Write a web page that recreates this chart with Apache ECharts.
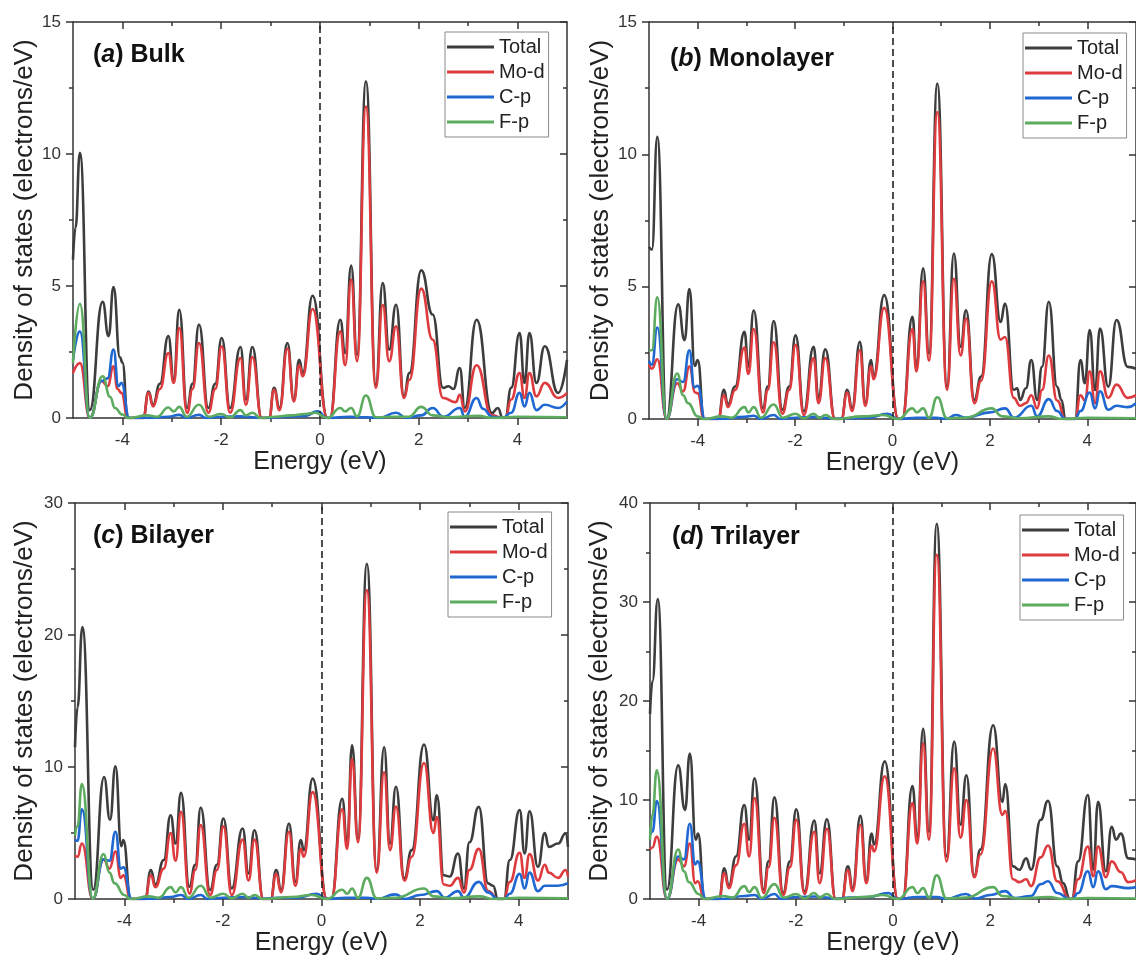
<!DOCTYPE html>
<html>
<head>
<meta charset="utf-8">
<script src="https://cdn.jsdelivr.net/npm/echarts@6/dist/echarts.min.js"></script>
<style>
  html, body { margin: 0; padding: 0; background: #fff; }
  #dos { width: 1136px; height: 958px; }
</style>
</head>
<body>
<div id="dos"></div>
<script>
// tick labels
var xMajor = [-4, -2, 0, 2, 4];
var xMinor = [-3, -1, 1, 3];
var seriesNames = ['Total', 'Mo-d', 'C-p', 'F-p'];

// (a) Bulk
var bulkTotal = [[-5,6.0],[-4.95,7.2],[-4.86,10.05],[-4.66,0.3],[-4.4,4.4],[-4.28,3.1],[-4.18,4.96],[-4.05,2.3],[-4.0,2.1],[-3.89,0],[-3.58,0],[-3.47,1.0],[-3.38,0.5],[-3.24,1.3],[-3.07,3.1],[-2.96,1.45],[-2.85,4.1],[-2.69,0.38],[-2.58,1.3],[-2.45,3.54],[-2.26,0.38],[-2.12,1.3],[-1.99,3.03],[-1.82,0.38],[-1.61,2.69],[-1.5,0.7],[-1.37,2.69],[-1.18,0],[-1.03,0],[-0.93,1.14],[-0.82,0.38],[-0.66,2.84],[-0.53,0.7],[-0.42,2.2],[-0.35,1.7],[-0.15,4.63],[0.15,0],[0.2,0],[0.41,3.72],[0.51,2.46],[0.63,5.77],[0.75,2.4],[0.93,12.75],[1.13,1.26],[1.27,5.11],[1.4,2.59],[1.54,4.29],[1.7,0.82],[1.81,1.7],[2.05,5.59],[2.28,3.92],[2.49,1.14],[2.6,1.2],[2.7,1.1],[2.83,1.89],[2.93,0.38],[3.17,3.72],[3.48,0.19],[3.6,0.38],[3.7,0],[3.75,0],[3.87,1.14],[4.04,3.22],[4.14,1.33],[4.24,3.22],[4.38,1.33],[4.55,2.72],[4.82,0.95],[5.0,2.2]];
var bulkMoD = [[-5,1.7],[-4.86,2.08],[-4.66,0],[-4.42,1.4],[-4.3,1.2],[-4.18,1.96],[-4.1,1.1],[-4.02,0.95],[-3.89,0],[-3.58,0],[-3.47,0.95],[-3.38,0.44],[-3.24,1.1],[-3.07,2.46],[-2.96,1.33],[-2.85,3.41],[-2.69,0.19],[-2.58,1.1],[-2.45,2.84],[-2.26,0.2],[-2.12,1.1],[-1.99,2.72],[-1.82,0.2],[-1.61,2.27],[-1.5,0.5],[-1.37,2.31],[-1.18,0],[-1.03,0],[-0.93,1.07],[-0.82,0.3],[-0.66,2.63],[-0.53,0.63],[-0.42,2.0],[-0.35,1.58],[-0.15,4.13],[0.15,0],[0.2,0],[0.41,3.28],[0.51,2.0],[0.63,5.24],[0.75,2.15],[0.93,11.8],[1.13,1.14],[1.27,4.29],[1.4,2.15],[1.54,3.47],[1.7,0.76],[1.81,1.45],[2.05,4.9],[2.28,2.97],[2.49,0.76],[2.75,0.6],[2.83,0.88],[2.93,0.25],[3.17,2.0],[3.48,0.1],[3.7,0],[3.75,0],[3.87,0.7],[4.04,1.7],[4.14,0.76],[4.24,1.7],[4.38,0.82],[4.55,1.33],[4.82,0.76],[5.0,0.95]];
var bulkCp = [[-5,2.2],[-4.86,3.28],[-4.66,0],[-4.42,1.4],[-4.3,1.5],[-4.18,2.59],[-4.08,1.2],[-4.02,1.33],[-3.86,0],[-3.5,0],[-3.07,0.05],[-2.85,0.12],[-2.7,0],[-2.45,0.12],[-2.3,0],[-2.0,0.05],[-1.6,0.06],[-1.4,0.04],[-1.2,0],[-0.9,0.02],[-0.66,0.05],[-0.3,0.08],[-0.05,0.25],[0.15,0],[0.6,0.05],[0.93,0.03],[1.2,0],[1.54,0.2],[1.75,0],[2.05,0.1],[2.28,0.38],[2.5,0.05],[2.83,0.38],[2.93,0.05],[3.17,0.76],[3.3,0.35],[3.48,0.05],[3.7,0],[3.87,0.2],[4.04,0.95],[4.14,0.44],[4.24,0.95],[4.38,0.3],[4.55,0.5],[4.82,0.38],[5.0,0.63]];
var bulkFp = [[-5,2.08],[-4.86,4.33],[-4.66,0],[-4.4,1.58],[-4.25,0.8],[-4.15,0.38],[-4.0,0.13],[-3.88,0],[-3.5,0.1],[-3.3,0.05],[-3.07,0.4],[-2.96,0.25],[-2.85,0.42],[-2.7,0.05],[-2.45,0.5],[-2.25,0.05],[-2.0,0.15],[-1.82,0.02],[-1.61,0.3],[-1.5,0.1],[-1.37,0.2],[-1.2,0],[-0.9,0.05],[-0.6,0.1],[-0.3,0.15],[-0.1,0.2],[0.15,0],[0.41,0.38],[0.51,0.25],[0.63,0.38],[0.75,0.06],[0.93,0.85],[1.13,0.03],[1.54,0.05],[1.8,0.05],[2.05,0.42],[2.28,0.1],[2.6,0.03],[3.2,0.08],[3.5,0],[4.0,0.05],[5.0,0.03]];

// (b) Monolayer
var monoTotal = [[-5,6.5],[-4.94,6.4],[-4.83,10.66],[-4.64,0],[-4.4,4.33],[-4.27,2.98],[-4.17,4.91],[-4.06,2.0],[-4.0,2.23],[-3.87,0],[-3.58,0],[-3.46,1.1],[-3.38,0.54],[-3.23,1.23],[-3.04,3.29],[-2.96,1.98],[-2.85,4.1],[-2.66,0.41],[-2.56,1.23],[-2.44,3.7],[-2.26,0.35],[-2.12,1.23],[-1.99,3.16],[-1.82,0.29],[-1.62,2.73],[-1.52,0.79],[-1.38,2.63],[-1.18,0],[-1.05,0],[-0.93,1.1],[-0.83,0.41],[-0.67,2.92],[-0.56,0.6],[-0.44,2.23],[-0.39,1.6],[-0.17,4.68],[0.12,0],[0.2,0],[0.41,3.86],[0.49,1.97],[0.63,5.69],[0.75,2.48],[0.92,12.67],[1.12,1.22],[1.26,6.25],[1.4,2.73],[1.51,4.11],[1.68,0.72],[1.82,1.6],[2.04,6.23],[2.22,3.67],[2.31,4.36],[2.49,1.1],[2.56,1.16],[2.62,0.72],[2.74,1.16],[2.85,2.23],[2.97,0.72],[3.07,1.97],[3.21,4.43],[3.38,1.22],[3.47,0.72],[3.55,0],[3.75,0],[3.86,2.23],[3.95,1.35],[4.05,3.36],[4.16,1.1],[4.26,3.42],[4.43,1.22],[4.6,3.74],[4.83,1.97],[5.0,1.9]];
var monoMoD = [[-5,2.05],[-4.94,1.9],[-4.83,2.26],[-4.64,0],[-4.42,1.35],[-4.3,1.04],[-4.17,1.98],[-4.05,1.0],[-4.0,0.97],[-3.87,0],[-3.58,0],[-3.46,0.9],[-3.38,0.45],[-3.23,1.1],[-3.04,2.7],[-2.96,1.7],[-2.85,3.4],[-2.66,0.25],[-2.56,1.1],[-2.44,2.9],[-2.26,0.2],[-2.12,1.1],[-1.99,2.8],[-1.82,0.15],[-1.62,2.3],[-1.52,0.6],[-1.38,2.3],[-1.18,0],[-1.05,0],[-0.93,1.0],[-0.83,0.3],[-0.67,2.6],[-0.56,0.5],[-0.44,2.0],[-0.39,1.5],[-0.17,4.2],[0.12,0],[0.2,0],[0.41,3.4],[0.49,1.8],[0.63,5.2],[0.75,2.2],[0.92,11.6],[1.12,1.1],[1.26,5.3],[1.4,2.4],[1.51,3.8],[1.68,0.6],[1.82,1.45],[2.04,5.2],[2.22,3.0],[2.31,3.1],[2.49,0.8],[2.62,0.5],[2.74,0.6],[2.85,0.9],[2.97,0.4],[3.07,1.1],[3.21,2.4],[3.38,0.7],[3.55,0],[3.75,0],[3.86,0.9],[3.95,0.7],[4.05,1.8],[4.16,0.6],[4.26,1.8],[4.43,0.8],[4.6,1.3],[4.83,0.8],[5.0,0.9]];
var monoCp = [[-5,2.2],[-4.94,2.05],[-4.83,3.46],[-4.64,0],[-4.42,1.5],[-4.3,1.4],[-4.17,2.6],[-4.07,1.2],[-4.0,1.25],[-3.85,0],[-3.5,0],[-3.04,0.08],[-2.85,0.12],[-2.7,0],[-2.44,0.15],[-2.3,0],[-1.99,0.05],[-1.62,0.08],[-1.4,0.05],[-1.2,0],[-0.9,0.03],[-0.5,0.05],[-0.1,0.2],[0.12,0],[0.5,0.05],[0.9,0.05],[1.1,0],[1.3,0.15],[1.5,0.05],[2.0,0.25],[2.31,0.4],[2.5,0.05],[2.85,0.5],[2.97,0.1],[3.21,0.75],[3.38,0.3],[3.55,0],[3.75,0],[3.86,0.3],[4.05,1.0],[4.16,0.4],[4.26,1.05],[4.43,0.35],[4.6,0.5],[4.83,0.45],[5.0,0.6]];
var monoFp = [[-5,2.6],[-4.94,2.6],[-4.83,4.6],[-4.64,0],[-4.42,1.72],[-4.3,0.9],[-4.2,0.6],[-4.0,0.1],[-3.88,0],[-3.5,0.1],[-3.3,0.05],[-3.04,0.45],[-2.96,0.25],[-2.85,0.45],[-2.7,0.05],[-2.44,0.55],[-2.25,0.05],[-1.99,0.2],[-1.82,0.02],[-1.62,0.2],[-1.5,0.05],[-1.38,0.15],[-1.2,0],[-0.6,0.1],[-0.2,0.15],[0.12,0],[0.41,0.4],[0.5,0.25],[0.63,0.4],[0.75,0.05],[0.92,0.82],[1.12,0.03],[1.5,0.05],[2.04,0.4],[2.25,0.1],[2.6,0.03],[3.2,0.1],[3.5,0],[4.0,0.05],[5.0,0.03]];

// (c) Bilayer
var biTotal = [[-5,11.5],[-4.95,14.5],[-4.85,20.6],[-4.63,0.7],[-4.41,9.24],[-4.29,6.0],[-4.18,10.05],[-4.06,4.0],[-4.02,4.46],[-3.87,0],[-3.58,0],[-3.46,2.2],[-3.37,1.06],[-3.2,2.95],[-3.06,6.35],[-2.96,4.2],[-2.85,8.04],[-2.68,0.93],[-2.56,2.6],[-2.45,6.93],[-2.26,0.68],[-2.12,2.6],[-1.99,6.1],[-1.82,0.8],[-1.6,5.34],[-1.48,1.94],[-1.36,5.21],[-1.18,0],[-1.03,0],[-0.92,2.2],[-0.82,0.7],[-0.66,5.72],[-0.53,1.3],[-0.42,4.46],[-0.36,3.7],[-0.18,9.12],[0.11,0],[0.2,0],[0.42,7.6],[0.52,4.2],[0.62,11.64],[0.74,4.58],[0.92,25.4],[1.12,2.2],[1.27,11.5],[1.39,4.2],[1.51,8.5],[1.68,1.56],[1.83,3.7],[2.08,11.7],[2.27,5.97],[2.34,7.86],[2.48,1.8],[2.6,1.7],[2.77,3.45],[2.89,0.8],[3.0,4.3],[3.19,6.98],[3.38,1.18],[3.48,1.0],[3.58,0],[3.7,0],[3.82,2.95],[4.02,6.73],[4.12,3.45],[4.22,6.65],[4.39,2.44],[4.53,5.0],[4.61,3.95],[4.8,4.2],[4.95,4.96],[5.0,3.95]];
var biMoD = [[-5,3.3],[-4.95,3.2],[-4.86,4.2],[-4.64,0],[-4.42,3.0],[-4.3,2.3],[-4.18,3.6],[-4.07,1.6],[-4.02,1.8],[-3.87,0],[-3.58,0],[-3.46,1.8],[-3.37,0.9],[-3.2,2.3],[-3.06,5.0],[-2.96,2.9],[-2.85,6.6],[-2.68,0.4],[-2.56,2.2],[-2.45,5.6],[-2.26,0.3],[-2.12,2.2],[-1.99,5.5],[-1.82,0.3],[-1.6,4.5],[-1.48,1.4],[-1.36,4.5],[-1.18,0],[-1.03,0],[-0.92,1.9],[-0.82,0.5],[-0.66,5.1],[-0.53,1.0],[-0.42,3.8],[-0.36,3.2],[-0.18,8.1],[0.11,0],[0.2,0],[0.42,6.8],[0.52,3.8],[0.62,10.6],[0.74,4.3],[0.92,23.4],[1.12,2.0],[1.27,9.6],[1.39,3.7],[1.51,7.0],[1.68,1.4],[1.83,3.2],[2.08,10.3],[2.27,5.0],[2.34,6.2],[2.48,1.1],[2.6,1.0],[2.77,1.6],[2.89,0.5],[3.0,2.2],[3.19,3.8],[3.38,0.6],[3.58,0],[3.7,0],[3.82,1.3],[4.02,3.5],[4.12,1.6],[4.22,3.4],[4.39,1.4],[4.53,2.6],[4.61,2.0],[4.8,1.6],[4.95,2.2],[5.0,1.7]];
var biCp = [[-5,4.5],[-4.95,4.4],[-4.86,6.8],[-4.64,0],[-4.42,3.0],[-4.3,2.9],[-4.18,5.1],[-4.07,2.3],[-4.02,2.4],[-3.85,0],[-3.5,0],[-3.06,0.15],[-2.85,0.3],[-2.7,0],[-2.45,0.3],[-2.3,0],[-1.99,0.1],[-1.6,0.15],[-1.36,0.1],[-1.2,0],[-0.9,0.1],[-0.5,0.1],[-0.1,0.4],[0.11,0],[0.5,0.1],[0.92,0.1],[1.12,0],[1.5,0.35],[1.7,0],[2.0,0.3],[2.34,0.6],[2.5,0.1],[2.77,0.6],[2.89,0.1],[3.19,1.3],[3.38,0.5],[3.58,0],[3.7,0],[3.82,0.4],[4.02,1.9],[4.12,0.8],[4.22,2.0],[4.39,0.6],[4.53,1.0],[4.8,1.0],[5.0,1.2]];
var biFp = [[-5,4.8],[-4.95,5.5],[-4.86,8.7],[-4.64,0],[-4.42,3.4],[-4.3,2.0],[-4.2,1.2],[-4.0,0.3],[-3.88,0],[-3.5,0.2],[-3.3,0.1],[-3.06,0.9],[-2.96,0.5],[-2.85,0.9],[-2.7,0.1],[-2.45,1.0],[-2.25,0.1],[-1.99,0.4],[-1.82,0.05],[-1.6,0.4],[-1.48,0.1],[-1.36,0.3],[-1.2,0],[-0.6,0.15],[-0.2,0.3],[0.11,0],[0.42,0.7],[0.52,0.4],[0.62,0.8],[0.74,0.1],[0.92,1.6],[1.12,0.05],[1.5,0.1],[2.08,0.8],[2.27,0.2],[2.6,0.05],[3.2,0.2],[3.5,0],[4.0,0.1],[5.0,0.05]];

// (d) Trilayer
var triTotal = [[-5,18.7],[-4.95,22],[-4.84,30.3],[-4.65,0.94],[-4.42,13.5],[-4.28,9.0],[-4.18,14.7],[-4.06,6.0],[-4.01,6.6],[-3.88,0],[-3.58,0],[-3.47,3.1],[-3.38,1.3],[-3.23,4.3],[-3.06,9.5],[-2.96,6.0],[-2.85,12.2],[-2.66,0.94],[-2.56,3.8],[-2.44,10.27],[-2.26,0.6],[-2.12,3.8],[-1.99,9.06],[-1.82,0.77],[-1.62,7.92],[-1.51,2.6],[-1.36,8.05],[-1.18,0],[-1.05,0],[-0.93,3.3],[-0.83,1.1],[-0.67,8.4],[-0.55,1.95],[-0.44,6.6],[-0.39,5.5],[-0.17,13.9],[0.1,0],[0.2,0],[0.4,11.4],[0.5,6.1],[0.62,17.2],[0.74,6.8],[0.9,37.9],[1.1,4.3],[1.26,15.9],[1.39,7.5],[1.51,12.5],[1.67,2.3],[1.8,5.0],[2.06,17.55],[2.25,9.8],[2.31,11.6],[2.47,3.3],[2.6,2.95],[2.74,4.1],[2.84,2.95],[3.04,8.0],[3.19,9.93],[3.38,3.3],[3.5,1.6],[3.64,0],[3.68,0],[3.81,3.8],[4.01,10.5],[4.12,2.95],[4.22,9.83],[4.38,2.8],[4.5,7.3],[4.59,6.0],[4.69,6.6],[4.84,4.1],[5.0,4.0]];
var triMoD = [[-5,5.0],[-4.95,5.2],[-4.86,6.3],[-4.65,0],[-4.42,4.0],[-4.3,3.3],[-4.18,5.6],[-4.07,1.6],[-4.02,1.8],[-3.88,0],[-3.58,0],[-3.47,2.6],[-3.38,1.1],[-3.23,3.4],[-3.06,7.6],[-2.96,4.3],[-2.85,10.2],[-2.66,0.6],[-2.56,3.2],[-2.44,8.2],[-2.26,0.4],[-2.12,3.2],[-1.99,8.0],[-1.82,0.5],[-1.62,6.8],[-1.51,1.6],[-1.36,7.1],[-1.18,0],[-1.05,0],[-0.93,2.9],[-0.83,0.8],[-0.67,7.5],[-0.55,1.6],[-0.44,5.4],[-0.39,4.8],[-0.17,12.4],[0.1,0],[0.2,0],[0.4,9.7],[0.5,5.6],[0.62,15.7],[0.74,6.0],[0.9,34.8],[1.1,3.8],[1.26,13.2],[1.39,6.2],[1.51,10.0],[1.67,2.2],[1.8,4.5],[2.06,15.2],[2.25,8.5],[2.31,8.9],[2.47,2.0],[2.6,1.7],[2.74,2.0],[2.84,1.3],[3.04,4.2],[3.19,5.4],[3.38,1.8],[3.64,0],[3.68,0],[3.81,2.0],[4.01,5.3],[4.12,2.3],[4.22,5.3],[4.38,2.2],[4.5,3.8],[4.69,2.7],[4.84,1.7],[5.0,1.9]];
var triCp = [[-5,6.5],[-4.95,6.8],[-4.86,9.9],[-4.65,0],[-4.42,4.3],[-4.3,4.0],[-4.18,7.6],[-4.07,3.5],[-4.02,3.8],[-3.85,0],[-3.5,0],[-3.06,0.3],[-2.85,0.4],[-2.7,0],[-2.44,0.5],[-2.3,0],[-1.99,0.2],[-1.62,0.25],[-1.36,0.15],[-1.2,0],[-0.9,0.15],[-0.5,0.2],[-0.1,0.6],[0.1,0],[0.5,0.2],[0.9,0.2],[1.1,0],[1.5,0.5],[1.7,0.05],[2.0,0.4],[2.31,0.8],[2.5,0.1],[2.84,0.3],[3.04,1.5],[3.19,1.8],[3.38,0.6],[3.64,0],[3.68,0],[3.81,0.6],[4.01,2.8],[4.12,1.2],[4.22,2.8],[4.38,1.0],[4.5,1.3],[4.84,1.1],[5.0,1.2]];
var triFp = [[-5,6.0],[-4.95,8.5],[-4.86,13.0],[-4.65,0],[-4.42,5.0],[-4.3,2.8],[-4.2,1.7],[-4.0,0.5],[-3.88,0],[-3.5,0.3],[-3.3,0.15],[-3.06,1.3],[-2.96,0.7],[-2.85,1.2],[-2.7,0.1],[-2.44,1.5],[-2.25,0.15],[-1.99,0.5],[-1.82,0.05],[-1.62,0.6],[-1.51,0.15],[-1.36,0.5],[-1.2,0],[-0.6,0.2],[-0.2,0.4],[0.1,0],[0.4,1.2],[0.5,0.6],[0.62,1.1],[0.74,0.15],[0.9,2.4],[1.1,0.05],[1.5,0.15],[2.06,1.2],[2.25,0.3],[2.6,0.05],[3.2,0.2],[3.5,0],[4.0,0.1],[5.0,0.05]];

var colors = ['#3d3d3d', '#dd3b3e', '#1f68d2', '#5cab5f'];
var FONT = '"Liberation Sans", Arial, sans-serif';
var AXC = '#333';

var panels = [
  { tag: 'a', name: 'Bulk', grid: { left: 73, top: 22, width: 494, height: 396 }, ymax: 15, yint: 5,
    title: { left: 93, top: 43 }, legend: { left: 445, top: 32 }, nameGap: 35,
    data: [bulkTotal, bulkMoD, bulkCp, bulkFp] },
  { tag: 'b', name: 'Monolayer', grid: { left: 649, top: 22, width: 493, height: 397 }, ymax: 15, yint: 5,
    title: { left: 670, top: 47 }, legend: { left: 1023, top: 33 }, nameGap: 35,
    data: [monoTotal, monoMoD, monoCp, monoFp] },
  { tag: 'c', name: 'Bilayer', grid: { left: 75, top: 503, width: 493, height: 396 }, ymax: 30, yint: 10,
    title: { left: 93, top: 524 }, legend: { left: 448, top: 512 }, nameGap: 37,
    data: [biTotal, biMoD, biCp, biFp] },
  { tag: 'd', name: 'Trilayer', grid: { left: 650, top: 503, width: 493, height: 396 }, ymax: 40, yint: 10,
    title: { left: 672, top: 525 }, legend: { left: 1020, top: 515 }, nameGap: 37,
    data: [triTotal, triMoD, triCp, triFp] }
];

var option = {
  animation: false,
  backgroundColor: '#fff',
  textStyle: { fontFamily: FONT },
  title: [], legend: [], grid: [], xAxis: [], yAxis: [], series: []
};

var lineSt = { color: AXC, width: 1.5 };

panels.forEach(function (p, gi) {
  option.grid.push(Object.assign({ containLabel: false }, p.grid));

  option.title.push({
    left: p.title.left, top: p.title.top, padding: 0,
    text: '{n|(}{i|' + p.tag + '}{n|) ' + p.name + '}',
    textStyle: {
      rich: {
        n: { fontSize: 25, fontWeight: 'bold', color: '#111', fontFamily: FONT, lineHeight: 25 },
        i: { fontSize: 25, fontWeight: 'bold', fontStyle: 'italic', color: '#111', fontFamily: FONT, lineHeight: 25 }
      }
    }
  });

  option.legend.push({
    left: p.legend.left, top: p.legend.top, orient: 'vertical',
    data: seriesNames, icon: 'rect', itemWidth: 47, itemHeight: 3, itemGap: 5,
    padding: [5, 4, 5, 2], borderColor: '#8a8a8a', borderWidth: 1,
    textStyle: { fontSize: 20, color: '#222', fontFamily: FONT },
    selectedMode: false
  });

  // x axes: bottom major, bottom minor, top major, top minor
  var xBase = { gridIndex: gi, type: 'value', min: -5, max: 5, splitLine: { show: false } };
  option.xAxis.push(Object.assign({}, xBase, {
    position: 'bottom',
    axisLine: { show: true, onZero: false, lineStyle: lineSt },
    axisTick: { show: true, inside: false, length: 7, customValues: xMajor, lineStyle: lineSt },
    axisLabel: { show: true, customValues: xMajor, margin: 14, fontSize: 17, color: '#333', fontFamily: FONT },
    name: 'Energy (eV)', nameLocation: 'middle', nameGap: 30,
    nameTextStyle: { fontSize: 25, color: '#222', fontFamily: FONT }
  }));
  option.xAxis.push(Object.assign({}, xBase, {
    position: 'bottom',
    axisLine: { show: false, onZero: false },
    axisTick: { show: true, inside: false, length: 4, customValues: xMinor, lineStyle: lineSt },
    axisLabel: { show: false }
  }));
  option.xAxis.push(Object.assign({}, xBase, {
    position: 'top',
    axisLine: { show: true, onZero: false, lineStyle: lineSt },
    axisTick: { show: true, inside: true, length: 7, customValues: xMajor, lineStyle: lineSt },
    axisLabel: { show: false }
  }));
  option.xAxis.push(Object.assign({}, xBase, {
    position: 'top',
    axisLine: { show: false, onZero: false },
    axisTick: { show: true, inside: true, length: 4, customValues: xMinor, lineStyle: lineSt },
    axisLabel: { show: false }
  }));

  // y axes: left with labels, right mirror
  var yBase = { gridIndex: gi, type: 'value', min: 0, max: p.ymax, interval: p.yint, splitLine: { show: false } };
  option.yAxis.push(Object.assign({}, yBase, {
    position: 'left',
    axisLine: { show: true, onZero: false, lineStyle: lineSt },
    axisTick: { show: true, inside: false, length: 7, lineStyle: lineSt },
    minorTick: { show: true, splitNumber: 2, length: 4, lineStyle: lineSt },
    axisLabel: { margin: 12, fontSize: 17, color: '#333', fontFamily: FONT },
    name: 'Density of states (electrons/eV)', nameLocation: 'middle', nameGap: p.nameGap,
    nameTextStyle: { fontSize: 26, color: '#222', fontFamily: FONT }
  }));
  option.yAxis.push(Object.assign({}, yBase, {
    position: 'right',
    axisLine: { show: true, onZero: false, lineStyle: lineSt },
    axisTick: { show: true, inside: true, length: 7, lineStyle: lineSt },
    minorTick: { show: true, splitNumber: 2, length: 4, lineStyle: lineSt },
    axisLabel: { show: false }
  }));

  p.data.forEach(function (d, si) {
    var s = {
      name: seriesNames[si], type: 'line', data: d,
      xAxisIndex: gi * 4, yAxisIndex: gi * 2,
      symbol: 'none', smooth: 0.5, smoothMonotone: 'x', clip: true,
      lineStyle: { color: colors[si], width: 2.6 },
      itemStyle: { color: colors[si] },
      z: 2 + si
    };
    if (si === 0) {
      // Fermi level
      s.markLine = {
        silent: true, symbol: ['none', 'none'], label: { show: false },
        lineStyle: { color: '#222', type: [7, 4], width: 1.6 },
        data: [{ xAxis: 0 }]
      };
    }
    option.series.push(s);
  });
});

var chart = echarts.init(document.getElementById('dos'));
chart.setOption(option);
</script>
</body>
</html>
